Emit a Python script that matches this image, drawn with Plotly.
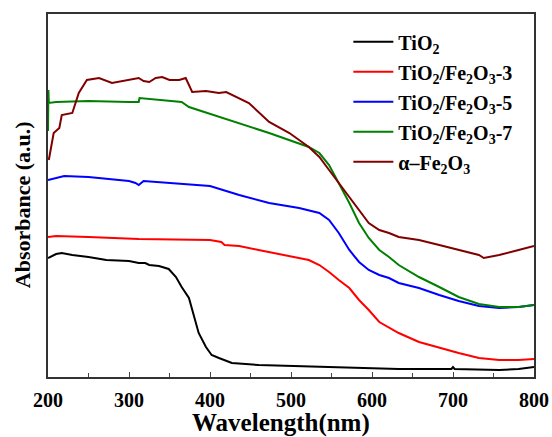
import plotly.graph_objects as go

# TiO2
tio2_x = [200, 210, 217, 230, 250, 272, 300, 312, 320, 325, 337, 349, 358, 365, 374, 378, 383, 386, 395, 402, 411, 427, 460, 510, 633, 698, 700, 702, 757, 781, 800]
tio2_y = [1.18, 1.22, 1.23, 1.21, 1.19, 1.16, 1.15, 1.13, 1.13, 1.11, 1.10, 1.07, 0.99, 0.89, 0.78, 0.66, 0.53, 0.43, 0.29, 0.21, 0.18, 0.13, 0.11, 0.10, 0.07, 0.07, 0.09, 0.07, 0.06, 0.07, 0.09]

# TiO2/Fe2O3-3
f3_x = [200, 210, 250, 312, 400, 414, 418, 436, 460, 473, 522, 535, 547, 559, 572, 584, 596, 609, 633, 658, 683, 707, 732, 757, 781, 800]
f3_y = [1.39, 1.40, 1.39, 1.37, 1.36, 1.34, 1.31, 1.30, 1.26, 1.24, 1.16, 1.11, 1.04, 0.96, 0.88, 0.76, 0.66, 0.54, 0.43, 0.34, 0.28, 0.23, 0.18, 0.16, 0.16, 0.17]

# TiO2/Fe2O3-5
f5_x = [200, 210, 220, 250, 300, 308, 312, 318, 350, 400, 424, 436, 473, 510, 535, 547, 559, 572, 584, 596, 609, 621, 633, 658, 683, 707, 732, 757, 781, 800]
f5_y = [1.96, 1.98, 2.00, 1.99, 1.95, 1.93, 1.91, 1.95, 1.93, 1.90, 1.84, 1.81, 1.73, 1.68, 1.63, 1.56, 1.43, 1.26, 1.14, 1.06, 1.01, 0.98, 0.93, 0.88, 0.81, 0.75, 0.70, 0.68, 0.69, 0.71]

# TiO2/Fe2O3-7
f7_x = [200, 200.5, 201, 210, 250, 300, 312, 313, 365, 374, 436, 473, 522, 535, 547, 559, 572, 584, 596, 609, 621, 633, 658, 683, 707, 732, 757, 781, 800]
f7_y = [2.45, 2.86, 2.73, 2.74, 2.75, 2.74, 2.74, 2.78, 2.74, 2.69, 2.53, 2.43, 2.29, 2.23, 2.11, 1.93, 1.73, 1.53, 1.38, 1.26, 1.19, 1.11, 0.99, 0.89, 0.79, 0.72, 0.69, 0.69, 0.71]

# alpha-Fe2O3
fe_x = [201, 207, 214, 217, 230, 238, 248, 263, 279, 300, 312, 318, 325, 333, 341, 350, 362, 370, 378, 395, 411, 420, 436, 448, 473, 498, 522, 535, 547, 559, 572, 584, 596, 609, 621, 633, 658, 683, 707, 732, 738, 757, 781, 800]
fe_y = [2.16, 2.43, 2.48, 2.61, 2.63, 2.83, 2.96, 2.98, 2.93, 2.96, 2.98, 2.95, 2.94, 2.98, 2.99, 2.96, 2.96, 2.98, 2.84, 2.85, 2.83, 2.84, 2.78, 2.73, 2.54, 2.43, 2.29, 2.19, 2.06, 1.93, 1.78, 1.66, 1.53, 1.46, 1.43, 1.39, 1.36, 1.31, 1.26, 1.21, 1.18, 1.21, 1.26, 1.30]

series = [
    ("TiO<sub>2</sub>", tio2_x, tio2_y, "#000000"),
    ("TiO<sub>2</sub>/Fe<sub>2</sub>O<sub>3</sub>-3", f3_x, f3_y, "#ff0000"),
    ("TiO<sub>2</sub>/Fe<sub>2</sub>O<sub>3</sub>-5", f5_x, f5_y, "#0000ff"),
    ("TiO<sub>2</sub>/Fe<sub>2</sub>O<sub>3</sub>-7", f7_x, f7_y, "#008000"),
    ("α–Fe<sub>2</sub>O<sub>3</sub>", fe_x, fe_y, "#800000"),
]

x_title = "Wavelength(nm)"
y_title = "Absorbance (a.u.)"

fig = go.Figure()
for i, (name, xs, ys, c) in enumerate(series):
    fig.add_trace(go.Scatter(x=xs, y=ys, mode="lines", name=name,
                             legendgroup="g%d" % i,
                             line=dict(color=c, width=2)))

font_family = "Liberation Serif"
fig.update_layout(
    width=552, height=437,
    margin=dict(l=48, r=18, t=14, b=60),
    paper_bgcolor="white", plot_bgcolor="white",
    font=dict(family=font_family, color="black"),
    legend=dict(x=0.618, y=0.977, xanchor="left", yanchor="top",
                font=dict(family=font_family, size=20, color="black", weight="bold"),
                bgcolor="rgba(0,0,0,0)", itemwidth=40, tracegroupgap=1),
    xaxis=dict(range=[200, 800], dtick=100, ticks="inside", ticklen=5,
               showline=True, linecolor="#333", linewidth=1.5, mirror=True,
               showgrid=False, zeroline=False, automargin=False,
               ticklabelstandoff=4,
               tickfont=dict(family=font_family, size=20, weight="bold"),
               minor=dict(ticks="inside", dtick=50, ticklen=4, showgrid=False)),
    yaxis=dict(range=[-0.01, 3.62], showticklabels=False, ticks="",
               showline=True, linecolor="#333", linewidth=1.5, mirror=True,
               showgrid=False, zeroline=False, automargin=False),
    annotations=[
        dict(text=x_title, xref="paper", yref="paper", x=0.479, y=-0.127,
             xanchor="center", yanchor="middle", showarrow=False,
             font=dict(family=font_family, size=25, weight="bold", color="black")),
        dict(text=y_title, xref="paper", yref="paper", x=-0.0535, y=0.476,
             xanchor="center", yanchor="middle", showarrow=False, textangle=-90,
             font=dict(family=font_family, size=22, weight="bold", color="black")),
    ],
)

fig.write_html("out.html")
